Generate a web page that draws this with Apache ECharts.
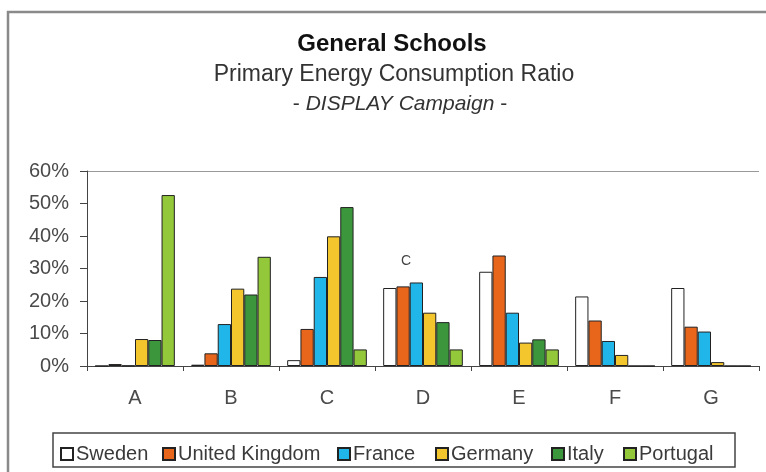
<!DOCTYPE html>
<html>
<head>
<meta charset="utf-8">
<script src="https://cdn.jsdelivr.net/npm/echarts@6/dist/echarts.min.js"></script>
<style>
html,body{margin:0;padding:0;background:#fff;}
#chart{width:766px;height:472px;}
</style>
</head>
<body>
<div id="chart"></div>
<script>
const categories = ['A', 'B', 'C', 'D', 'E', 'F', 'G'];
const seriesNames = ['Sweden', 'United Kingdom', 'France', 'Germany', 'Italy', 'Portugal'];
const sweden   = [0,   0.4, 1.8, 24.0, 29.0, 21.4, 24.0];
const uk       = [0.6, 3.9, 11.4, 24.5, 34.0, 14.0, 12.1];
const france   = [0.1, 12.9, 27.4, 25.7, 16.4, 7.7, 10.6];
const germany  = [8.3, 23.8, 39.9, 16.4, 7.2, 3.4, 1.2];
const italy    = [8.0, 22.0, 48.9, 13.5, 8.2, 0, 0];
const portugal = [52.6, 33.6, 5.1, 5.1, 5.1, 0, 0];
const yTicks = [0, 10, 20, 30, 40, 50, 60];

const values = [sweden, uk, france, germany, italy, portugal];
const colors = ['#ffffff', '#e8661c', '#20b6ea', '#f3c62e', '#3c963c', '#93c83a'];
const legendLeft = [60, 162, 337, 435, 551, 623];
const FONT = '"Liberation Sans", Arial, sans-serif';

const chart = echarts.init(document.getElementById('chart'));
chart.setOption({
  animation: false,
  backgroundColor: '#ffffff',
  textStyle: { fontFamily: FONT },
  grid: { left: 87, right: 7, top: 171, bottom: 106 },
  legend: seriesNames.map((n, i) => ({
    data: [n], left: legendLeft[i], top: 444, padding: 0,
    itemWidth: 12, itemHeight: 12, itemGap: 0,
    icon: 'rect',
    textStyle: { fontFamily: FONT, fontSize: 20, color: '#3a3a3a', padding: [0, 0, 0, -2] }
  })),
  xAxis: {
    type: 'category', data: categories,
    axisLine: { lineStyle: { color: '#444', width: 1 } },
    axisTick: { show: true, length: 5, lineStyle: { color: '#444' } },
    axisLabel: { fontFamily: FONT, fontSize: 20, color: '#4a4a4a', margin: 22 }
  },
  yAxis: {
    type: 'value', min: yTicks[0], max: yTicks[yTicks.length - 1], interval: 10,
    axisLine: { show: true, lineStyle: { color: '#444', width: 1 } },
    axisTick: { show: true, length: 7, lineStyle: { color: '#444' } },
    splitLine: { show: true, lineStyle: { width: 1, color: ['rgba(0,0,0,0)', 'rgba(0,0,0,0)', 'rgba(0,0,0,0)', 'rgba(0,0,0,0)', 'rgba(0,0,0,0)', 'rgba(0,0,0,0)', '#9a9a9a'] } },
    axisLabel: { fontFamily: FONT, fontSize: 20, color: '#4a4a4a', margin: 18, formatter: '{value}%' }
  },
  series: seriesNames.map((n, i) => ({
    name: n, type: 'bar', data: values[i],
    barGap: '0%', barCategoryGap: '17%',
    itemStyle: { color: colors[i], borderColor: '#222', borderWidth: 1 }
  })),
  graphic: [
    { type: 'rect', shape: { x: 8, y: 12, width: 800, height: 500 }, style: { fill: 'none', stroke: '#8a8a8a', lineWidth: 2.5 }, z: -1, silent: true },
    { type: 'rect', shape: { x: 53, y: 433, width: 682, height: 34 }, style: { fill: 'none', stroke: '#444', lineWidth: 1.5 }, z: -1, silent: true },
    { type: 'text', x: 392, y: 44, style: { text: 'General Schools', font: 'bold 24px ' + FONT, fill: '#111', textAlign: 'center', textVerticalAlign: 'middle' } },
    { type: 'text', x: 394, y: 75, style: { text: 'Primary Energy Consumption Ratio', font: '23px ' + FONT, fill: '#333', textAlign: 'center', textVerticalAlign: 'middle' } },
    { type: 'text', x: 400, y: 104, style: { text: '- {i|DISPLAY Campaign} -', fontFamily: FONT, fontSize: 21, fill: '#333', textAlign: 'center', textVerticalAlign: 'middle',
        rich: { i: { fontStyle: 'italic', fontFamily: FONT, fontSize: 21, fill: '#333' } } } },
    { type: 'text', x: 406, y: 261, style: { text: 'C', font: '14px ' + FONT, fill: '#444', textAlign: 'center', textVerticalAlign: 'middle' } }
  ]
});
</script>
</body>
</html>
